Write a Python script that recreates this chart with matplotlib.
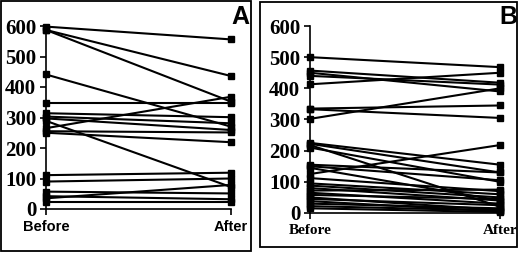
import matplotlib
matplotlib.use("Agg")
import matplotlib.pyplot as plt
from matplotlib.patches import Rectangle

x_labels = ["Before", "After"]
y_ticks = [0, 100, 200, 300, 400, 500, 600]

a_before = [598, 587, 587, 441, 347, 265, 314, 303, 297, 255, 250, 289, 111, 90, 57, 35, 42, 24]
a_after = [556, 436, 352, 270, 347, 368, 301, 281, 259, 251, 219, 72, 119, 100, 51, 79, 32, 24]

b_before = [500, 457, 450, 440, 413, 335, 333, 302, 225, 222, 218, 210, 155, 150, 145, 125,
            112, 95, 88, 80, 72, 65, 58, 50, 45, 38, 30, 22, 15]
b_after = [468, 418, 390, 412, 450, 345, 305, 400, 155, 130, 20, 100, 130, 105, 40, 218,
           70, 60, 50, 40, 75, 30, 45, 10, 25, 5, 15, 8, 3]

W, H = 520, 257
fig = plt.figure(figsize=(W / 100, H / 100), dpi=100)

def fx(p):
    return p / W

def fy(p):
    return 1 - p / H

# panel borders
fig.patches.append(Rectangle((fx(1), fy(251)), fx(250), 250 / H, transform=fig.transFigure,
                             fill=False, lw=1.3, ec="black"))
fig.patches.append(Rectangle((fx(260), fy(247)), fx(257), 245 / H, transform=fig.transFigure,
                             fill=False, lw=1.3, ec="black"))

axA = fig.add_axes([fx(46), fy(209), fx(185), 183 / H])
axB = fig.add_axes([fx(310), fy(213), fx(190), 187 / H])

def draw(ax, before, after, letter, xfont, lx, ly):
    for b, a in zip(before, after):
        ax.plot([0, 1], [b, a], color="black", lw=1.5, marker="s", ms=3.8,
                clip_on=False, solid_capstyle="butt")
    ax.set_xlim(0, 1)
    ax.set_ylim(0, 600)
    ax.set_xticks([0, 1])
    ax.set_xticklabels(x_labels, fontdict=xfont)
    ax.set_yticks(y_ticks)
    ax.set_yticklabels([str(v) for v in y_ticks], family="Liberation Serif",
                       weight="bold", size=15)
    for s in ["top", "right"]:
        ax.spines[s].set_visible(False)
    for s in ["left", "bottom"]:
        ax.spines[s].set_linewidth(1.2)
    ax.tick_params(axis="y", length=4, width=1.2, pad=3)
    ax.tick_params(axis="x", length=4, width=1.2, pad=4)
    ax.set_facecolor("none")
    fig.text(fx(lx), fy(ly), letter, ha="center", va="center", family="Liberation Sans",
             weight="bold", size=18)

fontA = dict(family="Liberation Sans", weight="bold", size=10.5)
fontB = dict(family="Liberation Serif", weight="bold", size=11)

draw(axA, a_before, a_after, "A", fontA, 240, 17)
draw(axB, b_before, b_after, "B", fontB, 508, 17)

fig.savefig("out.png", dpi=100)
